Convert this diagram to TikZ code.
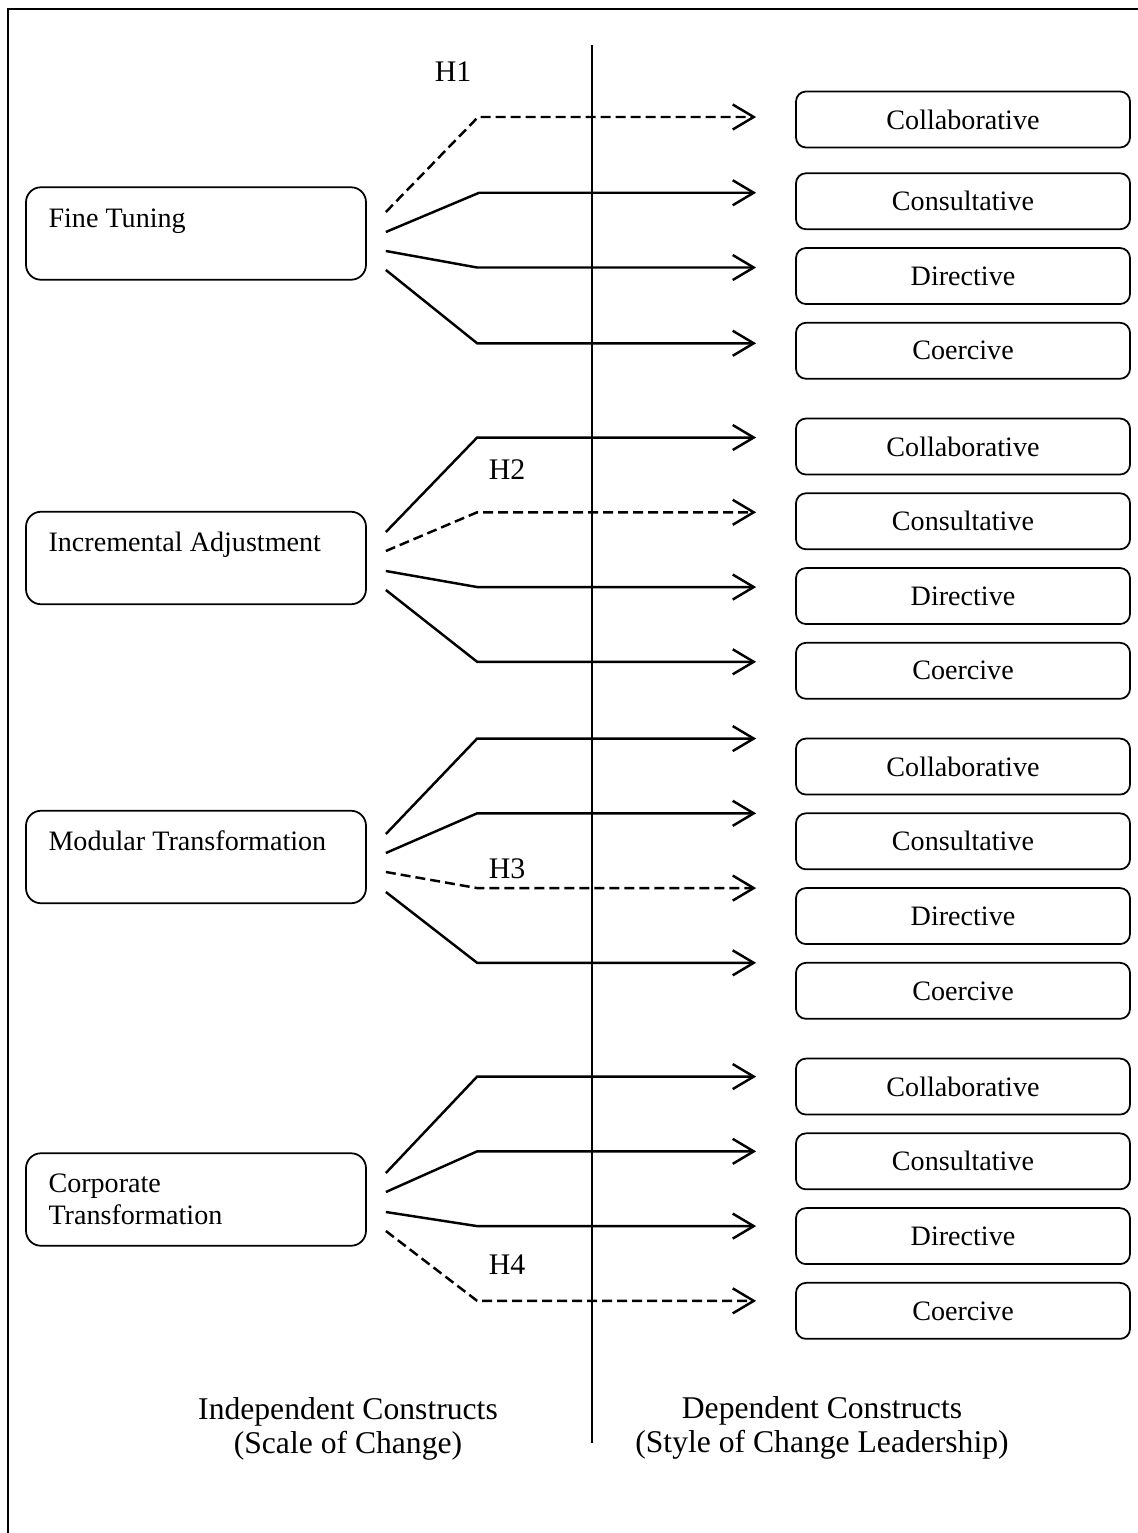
\documentclass[tikz,border=0pt]{standalone}
\usepackage{fontspec}
\setmainfont{Liberation Serif}
\usepackage{tikz}
\usetikzlibrary{arrows.meta,positioning,calc}
\tikzstyle{scalebox} = [rectangle, rounded corners=0.3cm, draw, line width=1pt, minimum width=6.8cm, minimum height=1.85cm, text width=5.9cm, inner xsep=0.45cm, align=flush left, font=\fontsize{16}{18.2}\selectfont]
\tikzstyle{raised} = [text height=0.4cm, text depth=0.65cm]
\tikzstyle{stylebox} = [rectangle, rounded corners=0.2cm, draw, line width=1pt, minimum width=6.68cm, minimum height=1.12cm, text centered, font=\fontsize{16}{18.2}\selectfont]
\tikzstyle{link} = [line width=1.4pt, -{Straight Barb[length=0.42cm, width=0.5cm, line width=1.4pt]}]
\tikzstyle{hyp} = [link, dash pattern=on 0.2cm off 0.1cm]
\tikzstyle{hlabel} = [font=\fontsize{17}{19}\selectfont]

\begin{document}
\begin{tikzpicture}
\useasboundingbox (0,0) rectangle (22.76,-30.66);
% frame and divider
\draw[line width=1pt] (0.16,-30.66) -- (0.16,-0.18) -- (22.76,-0.18);
\draw[line width=0.8pt] (11.84,-0.9) -- (11.84,-28.86);

% Scale of change
\node[scalebox, raised] (ft) at (3.92,-4.67) {Fine Tuning};
\node[scalebox, raised] (ia) at (3.92,-11.16) {Incremental Adjustment};
\node[scalebox, raised] (mt) at (3.92,-17.14) {Modular Transformation};
\node[scalebox] (ct) at (3.92,-23.99) {Corporate\\Transformation};

% Style of change leadership
\node[stylebox] (ftcol) at (19.26,-2.39) {Collaborative};
\node[stylebox, below=0.48cm of ftcol] (ftcon) {Consultative};
\node[stylebox, below=0.34cm of ftcon] (ftdir) {Directive};
\node[stylebox, below=0.34cm of ftdir] (ftcoe) {Coercive};

\node[stylebox, below=0.76cm of ftcoe] (iacol) {Collaborative};
\node[stylebox, below=0.34cm of iacol] (iacon) {Consultative};
\node[stylebox, below=0.34cm of iacon] (iadir) {Directive};
\node[stylebox, below=0.34cm of iadir] (iacoe) {Coercive};

\node[stylebox, below=0.76cm of iacoe] (mtcol) {Collaborative};
\node[stylebox, below=0.34cm of mtcol] (mtcon) {Consultative};
\node[stylebox, below=0.34cm of mtcon] (mtdir) {Directive};
\node[stylebox, below=0.34cm of mtdir] (mtcoe) {Coercive};

\node[stylebox, below=0.76cm of mtcoe] (ctcol) {Collaborative};
\node[stylebox, below=0.34cm of ctcol] (ctcon) {Consultative};
\node[stylebox, below=0.34cm of ctcon] (ctdir) {Directive};
\node[stylebox, below=0.34cm of ctdir] (ctcoe) {Coercive};

% Fine tuning links
\draw[hyp] ($(ft.east)+(0.38,0.43)$) -- ($(ftcol.west)+(-6.34,0.05)$) -- ($(ftcol.west)+(-0.78,0.05)$);
\draw[link] ($(ft.east)+(0.38,0.03)$) -- ($(ftcon.west)+(-6.32,0.17)$) -- ($(ftcon.west)+(-0.78,0.17)$);
\draw[link] ($(ft.east)+(0.38,-0.35)$) -- ($(ftdir.west)+(-6.36,0.17)$) -- ($(ftdir.west)+(-0.78,0.17)$);
\draw[link] ($(ft.east)+(0.38,-0.73)$) -- ($(ftcoe.west)+(-6.36,0.15)$) -- ($(ftcoe.west)+(-0.78,0.15)$);
\node[hlabel] (h1) at (9.06,-1.44) {H1};

% Incremental adjustment links
\draw[link] ($(ia.east)+(0.38,0.52)$) -- ($(iacol.west)+(-6.36,0.18)$) -- ($(iacol.west)+(-0.78,0.18)$);
\draw[hyp] ($(ia.east)+(0.38,0.14)$) -- ($(iacon.west)+(-6.36,0.18)$) -- ($(iacon.west)+(-0.78,0.18)$);
\draw[link] ($(ia.east)+(0.38,-0.26)$) -- ($(iadir.west)+(-6.36,0.18)$) -- ($(iadir.west)+(-0.78,0.18)$);
\draw[link] ($(ia.east)+(0.38,-0.64)$) -- ($(iacoe.west)+(-6.36,0.18)$) -- ($(iacoe.west)+(-0.78,0.18)$);
\node[hlabel] (h2) at (10.14,-9.4) {H2};

% Modular transformation links
\draw[link] ($(mt.east)+(0.38,0.46)$) -- ($(mtcol.west)+(-6.36,0.56)$) -- ($(mtcol.west)+(-0.78,0.56)$);
\draw[link] ($(mt.east)+(0.38,0.08)$) -- ($(mtcon.west)+(-6.36,0.56)$) -- ($(mtcon.west)+(-0.78,0.56)$);
\draw[hyp] ($(mt.east)+(0.38,-0.30)$) -- ($(mtdir.west)+(-6.36,0.56)$) -- ($(mtdir.west)+(-0.78,0.56)$);
\draw[link] ($(mt.east)+(0.38,-0.70)$) -- ($(mtcoe.west)+(-6.36,0.56)$) -- ($(mtcoe.west)+(-0.78,0.56)$);
\node[hlabel] (h3) at (10.14,-17.38) {H3};

% Corporate transformation links
\draw[link] ($(ct.east)+(0.38,0.53)$) -- ($(ctcol.west)+(-6.36,0.2)$) -- ($(ctcol.west)+(-0.78,0.2)$);
\draw[link] ($(ct.east)+(0.38,0.15)$) -- ($(ctcon.west)+(-6.36,0.2)$) -- ($(ctcon.west)+(-0.78,0.2)$);
\draw[link] ($(ct.east)+(0.38,-0.25)$) -- ($(ctdir.west)+(-6.36,0.2)$) -- ($(ctdir.west)+(-0.78,0.2)$);
\draw[hyp] ($(ct.east)+(0.38,-0.63)$) -- ($(ctcoe.west)+(-6.36,0.2)$) -- ($(ctcoe.west)+(-0.78,0.2)$);
\node[hlabel] (h4) at (10.14,-25.3) {H4};

% Column captions
\node[font=\fontsize{18}{19.5}\selectfont, align=center] (indep) at (6.96,-28.58) {Independent Constructs\\(Scale of Change)};
\node[font=\fontsize{18}{19.5}\selectfont, align=center] (dep) at (16.44,-28.56) {Dependent Constructs\\(Style of Change Leadership)};
\end{tikzpicture}
\end{document}
